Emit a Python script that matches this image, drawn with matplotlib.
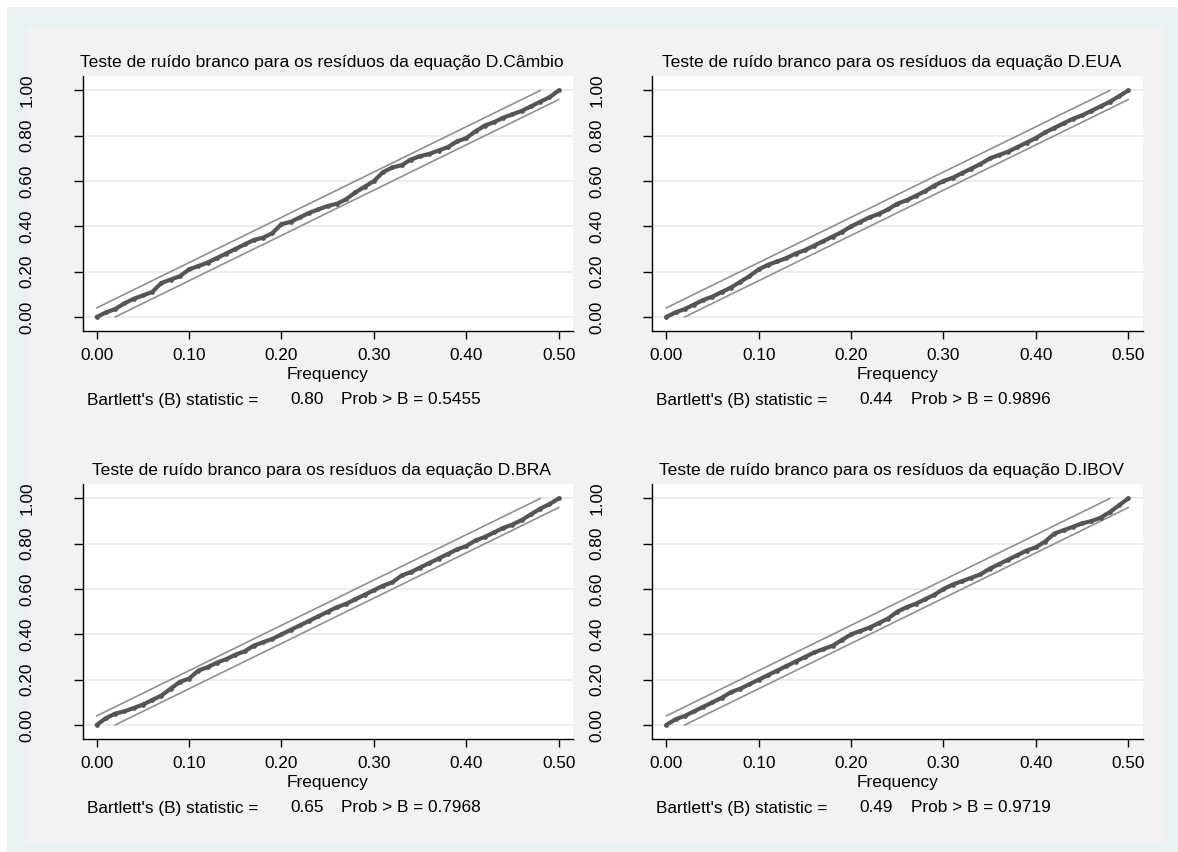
import matplotlib
matplotlib.use("Agg")
import matplotlib.pyplot as plt
from matplotlib.patches import Rectangle

plt.rcParams['font.family'] = ['Liberation Sans', 'DejaVu Sans']

W, H = 1178, 852

freq = [0.00, 0.01, 0.02, 0.03, 0.04, 0.05, 0.06, 0.07, 0.08, 0.09,
        0.10, 0.11, 0.12, 0.13, 0.14, 0.15, 0.16, 0.17, 0.18, 0.19,
        0.20, 0.21, 0.22, 0.23, 0.24, 0.25, 0.26, 0.27, 0.28, 0.29,
        0.30, 0.31, 0.32, 0.33, 0.34, 0.35, 0.36, 0.37, 0.38, 0.39,
        0.40, 0.41, 0.42, 0.43, 0.44, 0.45, 0.46, 0.47, 0.48, 0.49, 0.50]

cum_cambio = [0.00, 0.02, 0.035, 0.06, 0.08, 0.095, 0.11, 0.15, 0.165, 0.18,
              0.21, 0.225, 0.24, 0.26, 0.28, 0.30, 0.32, 0.34, 0.35, 0.37,
              0.41, 0.42, 0.44, 0.46, 0.475, 0.49, 0.50, 0.52, 0.55, 0.575,
              0.60, 0.64, 0.66, 0.67, 0.695, 0.71, 0.72, 0.735, 0.75, 0.775,
              0.79, 0.82, 0.845, 0.86, 0.88, 0.895, 0.91, 0.93, 0.95, 0.97, 1.00]

cum_eua = [0.00, 0.02, 0.035, 0.055, 0.075, 0.09, 0.11, 0.13, 0.155, 0.18,
           0.21, 0.23, 0.245, 0.26, 0.28, 0.295, 0.315, 0.335, 0.355, 0.375,
           0.40, 0.42, 0.44, 0.455, 0.475, 0.50, 0.515, 0.535, 0.555, 0.58,
           0.60, 0.615, 0.635, 0.655, 0.675, 0.70, 0.715, 0.73, 0.75, 0.77,
           0.79, 0.815, 0.835, 0.855, 0.875, 0.89, 0.91, 0.93, 0.95, 0.975, 1.00]

cum_bra = [0.00, 0.03, 0.05, 0.06, 0.075, 0.09, 0.11, 0.13, 0.16, 0.19,
           0.205, 0.24, 0.255, 0.275, 0.29, 0.31, 0.325, 0.35, 0.365, 0.38,
           0.40, 0.42, 0.44, 0.46, 0.48, 0.50, 0.52, 0.535, 0.555, 0.575,
           0.595, 0.615, 0.63, 0.66, 0.675, 0.695, 0.715, 0.735, 0.755, 0.775,
           0.79, 0.815, 0.83, 0.85, 0.87, 0.885, 0.905, 0.93, 0.955, 0.975, 1.00]

cum_ibov = [0.00, 0.025, 0.04, 0.06, 0.08, 0.10, 0.12, 0.145, 0.16, 0.18,
            0.20, 0.22, 0.24, 0.26, 0.28, 0.30, 0.32, 0.335, 0.35, 0.375,
            0.40, 0.415, 0.43, 0.45, 0.47, 0.50, 0.52, 0.535, 0.555, 0.575,
            0.60, 0.62, 0.635, 0.65, 0.665, 0.69, 0.71, 0.73, 0.75, 0.77,
            0.785, 0.81, 0.845, 0.86, 0.875, 0.89, 0.90, 0.915, 0.94, 0.97, 1.00]

band_upper_x = [0.00, 0.48]
band_upper_y = [0.04, 1.00]
band_lower_x = [0.02, 0.50]
band_lower_y = [0.00, 0.96]

titles = ["Teste de ruído branco para os resíduos da equação D.Câmbio",
          "Teste de ruído branco para os resíduos da equação D.EUA",
          "Teste de ruído branco para os resíduos da equação D.BRA",
          "Teste de ruído branco para os resíduos da equação D.IBOV"]
series = [cum_cambio, cum_eua, cum_bra, cum_ibov]
bartlett_stat = ["0.80", "0.44", "0.65", "0.49"]
bartlett_prob = ["0.5455", "0.9896", "0.7968", "0.9719"]

xticks = [0.0, 0.1, 0.2, 0.3, 0.4, 0.5]
xticklabels = ["0.00", "0.10", "0.20", "0.30", "0.40", "0.50"]
yticks = [0.0, 0.2, 0.4, 0.6, 0.8, 1.0]
yticklabels = ["0.00", "0.20", "0.40", "0.60", "0.80", "1.00"]

fig = plt.figure(figsize=(W / 100, H / 100), dpi=100)
fig.patch.set_facecolor('white')

def px_rect(x0, y0, x1, y1, color):
    fig.patches.append(Rectangle((x0 / W, 1 - y1 / H), (x1 - x0) / W, (y1 - y0) / H,
                                 transform=fig.transFigure, facecolor=color,
                                 edgecolor='none', zorder=-10))

px_rect(7, 7, 1178, 852, '#eaf1f3')
px_rect(27, 27, 1163, 843, '#f2f2f2')

ax_w = 490.3
ax_h = 255.0
lefts = [82.7, 652.3, 82.7, 652.3]
tops = [76.0, 76.0, 484.0, 484.0]
FS = 12.4
FS_T = 12.6

for i in range(4):
    L, T = lefts[i], tops[i]
    ax = fig.add_axes([L / W, 1 - (T + ax_h) / H, ax_w / W, ax_h / H])
    ax.set_facecolor('white')
    ax.set_xlim(-0.01515, 0.5155)
    ax.set_ylim(-0.062, 1.064)
    for s in ['top', 'right']:
        ax.spines[s].set_visible(False)
    for s in ['left', 'bottom']:
        ax.spines[s].set_linewidth(1.0)
        ax.spines[s].set_color('black')
    ax.set_yticks(yticks)
    ax.set_yticklabels(yticklabels, rotation=90, va='center', fontsize=FS)
    ax.set_xticks(xticks)
    ax.set_xticklabels(xticklabels, fontsize=FS)
    ax.tick_params(axis='y', length=9 * 0.72, width=1.0, pad=28)
    ax.tick_params(axis='x', length=8.3 * 0.72, width=1.0, pad=6.5)
    ax.grid(axis='y', color='#e8e8e8', linewidth=1.1)
    ax.set_axisbelow(True)

    ax.plot(band_upper_x, band_upper_y, color='#909090', linewidth=1.2, zorder=2)
    ax.plot(band_lower_x, band_lower_y, color='#909090', linewidth=1.2, zorder=2)
    ax.plot(freq, series[i], color='#555555', linewidth=3.0, marker='o',
            markersize=3.4, markeredgewidth=0, solid_capstyle='round',
            solid_joinstyle='round', zorder=3)

    cx = L + ax_w / 2
    fig.text((cx - 6) / W, 1 - (T - 14) / H, titles[i], ha='center', va='center',
             fontsize=FS_T)
    fig.text(cx / W, 1 - (T + 299) / H, "Frequency", ha='center', va='center',
             fontsize=FS)
    yb = T + 324
    fig.text((L + 4) / W, 1 - yb / H, "Bartlett's (B) statistic =", ha='left',
             va='center', fontsize=FS)
    fig.text((L + 207.3) / W, 1 - yb / H, bartlett_stat[i], ha='left',
             va='center', fontsize=FS)
    fig.text((L + 258.3) / W, 1 - yb / H, "Prob > B = " + bartlett_prob[i],
             ha='left', va='center', fontsize=FS)

fig.savefig("out.png", dpi=100, facecolor=fig.get_facecolor())
